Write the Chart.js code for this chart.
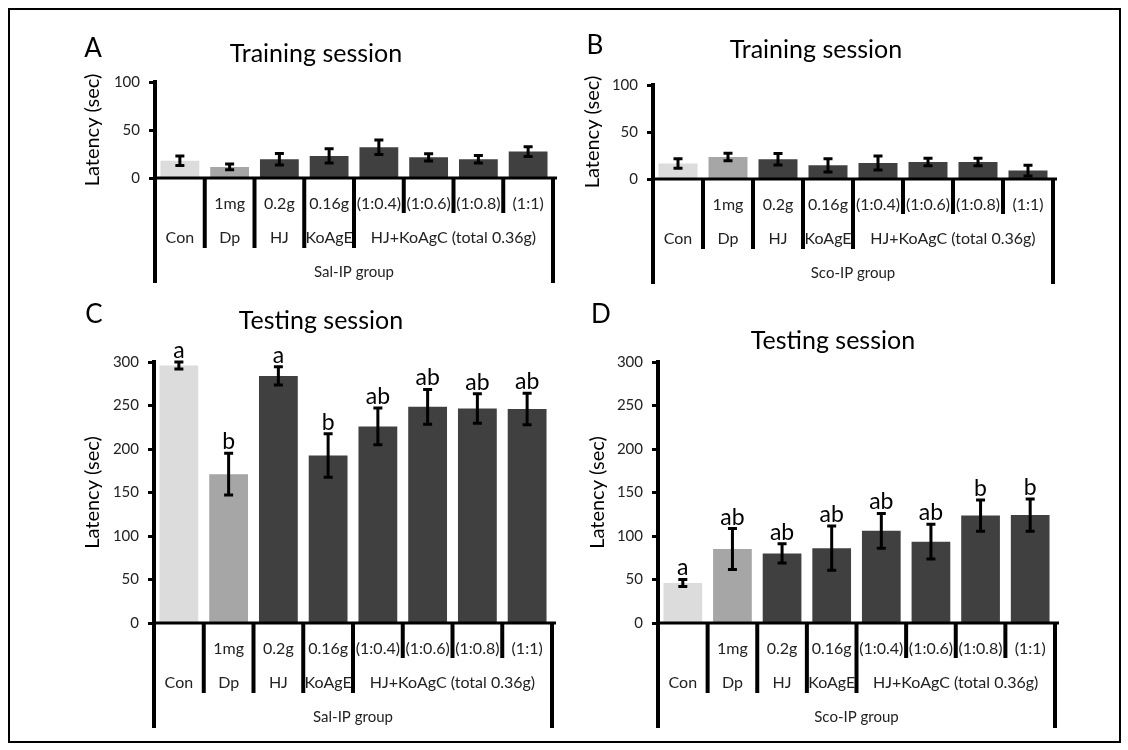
<!DOCTYPE html>
<html>
<head>
<meta charset="utf-8">
<script src="https://cdn.jsdelivr.net/npm/chart.js@4.4.1/dist/chart.umd.min.js"></script>
<style>
html, body { margin: 0; padding: 0; background: #fff; }
#frame { position: absolute; left: 8px; top: 8px; width: 1109px; height: 731px; border: 2px solid #000; }
canvas { position: absolute; }
</style>
</head>
<body>
<div id="frame"></div>
<canvas id="chartA" width="555" height="290" style="left:10px;top:10px"></canvas>
<canvas id="chartB" width="555" height="290" style="left:565px;top:10px"></canvas>
<canvas id="chartC" width="555" height="440" style="left:10px;top:300px"></canvas>
<canvas id="chartD" width="555" height="440" style="left:565px;top:300px"></canvas>
<script>
// ---- data ----
var categories = ['Con', 'Dp 1mg', 'HJ 0.2g', 'KoAgE 0.16g', 'HJ+KoAgC (1:0.4)', 'HJ+KoAgC (1:0.6)', 'HJ+KoAgC (1:0.8)', 'HJ+KoAgC (1:1)'];
var doseLabels = ['', '1mg', '0.2g', '0.16g', '(1:0.4)', '(1:0.6)', '(1:0.8)', '(1:1)'];
var treatLabels = ['Con', 'Dp', 'HJ', 'KoAgE', 'HJ+KoAgC (total 0.36g)'];
var treatSpans = [1, 1, 1, 1, 4];

var trainSalMean = [18, 11.5, 19.5, 23, 32, 21.5, 19.5, 27.5];
var trainSalErr  = [5, 3, 6, 7.5, 7.5, 3.8, 4, 5];
var trainScoMean = [16.5, 23.5, 21, 14.5, 17, 18, 18, 9];
var trainScoErr  = [5, 4, 6, 7, 7.5, 4, 4, 5.7];

var testSalMean = [296, 171, 284, 192.5, 226, 248.5, 246.5, 246];
var testSalErr  = [4, 24, 10.5, 25, 21, 20, 17, 18];
var testSalLetters = ['a', 'b', 'a', 'b', 'ab', 'ab', 'ab', 'ab'];

var testScoMean = [46, 85, 80, 86, 106, 93.5, 123.5, 124];
var testScoErr  = [4, 23.5, 11, 25.5, 20, 20, 18, 18.5];
var testScoLetters = ['a', 'ab', 'ab', 'ab', 'ab', 'ab', 'b', 'b'];

var FONT = 'Lato, "Open Sans", sans-serif';
var BAR_COLORS = ['#dcdcdc', '#a6a6a6', '#404040', '#404040', '#404040', '#404040', '#404040', '#404040'];

// panel geometry in page pixels
var panels = [
    { id: 'chartA', pos: [10, 10, 555, 290], area: [155, 82, 553, 178], mean: trainSalMean, err: trainSalErr, letters: null, max: 100,
      title: 'Training session', titleX: 316, titleY: 54, tag: 'A', tagX: 93, tagY: 49, yTitleX: 93, group: 'Sal-IP group' },
    { id: 'chartB', pos: [565, 10, 555, 290], area: [653, 85, 1053, 179], mean: trainScoMean, err: trainScoErr, letters: null, max: 100,
      title: 'Training session', titleX: 816, titleY: 50, tag: 'B', tagX: 595, tagY: 46, yTitleX: 593, group: 'Sco-IP group' },
    { id: 'chartC', pos: [10, 300, 555, 440], area: [154, 362, 552, 623], mean: testSalMean, err: testSalErr, letters: testSalLetters, max: 300,
      title: 'Testing session', titleX: 321, titleY: 321, tag: 'C', tagX: 94, tagY: 315, yTitleX: 93, group: 'Sal-IP group' },
    { id: 'chartD', pos: [565, 300, 555, 440], area: [658, 362, 1055, 623], mean: testScoMean, err: testScoErr, letters: testScoLetters, max: 300,
      title: 'Testing session', titleX: 833, titleY: 341, tag: 'D', tagX: 601, tagY: 315, yTitleX: 598, group: 'Sco-IP group' }
];

// error bars + significance letters + excel style category axis
var decorPlugin = {
    id: 'decor',
    afterDatasetsDraw: function(chart, args, o) {
        var ctx = chart.ctx, ys = chart.scales.y;
        var meta = chart.getDatasetMeta(0);
        var vals = chart.data.datasets[0].data;
        ctx.save();
        ctx.strokeStyle = '#000';
        ctx.lineWidth = 3;
        meta.data.forEach(function(bar, i) {
            var top = ys.getPixelForValue(vals[i] + o.err[i]);
            var bot = ys.getPixelForValue(Math.max(vals[i] - o.err[i], 0));
            ctx.beginPath();
            ctx.moveTo(bar.x, top); ctx.lineTo(bar.x, bot);
            ctx.moveTo(bar.x - 4.5, top); ctx.lineTo(bar.x + 4.5, top);
            ctx.moveTo(bar.x - 4.5, bot); ctx.lineTo(bar.x + 4.5, bot);
            ctx.stroke();
            if (o.letters) {
                ctx.fillStyle = '#000';
                ctx.font = '23px ' + FONT;
                ctx.textAlign = 'center';
                ctx.textBaseline = 'bottom';
                ctx.fillText(o.letters[i], bar.x, top);
            }
        });
        ctx.restore();
    },
    afterDraw: function(chart, args, o) {
        var ctx = chart.ctx, xs = chart.scales.x, a = chart.chartArea;
        var n = categories.length;
        var bound = [a.left];
        for (var i = 1; i < n; i++) bound.push((xs.getPixelForValue(i - 1) + xs.getPixelForValue(i)) / 2);
        bound.push(a.right);
        var groupStarts = [];
        var s = 0;
        treatSpans.forEach(function(sp) { groupStarts.push(s); s += sp; });

        ctx.save();
        ctx.strokeStyle = '#000';
        // x axis line
        ctx.lineWidth = 3;
        ctx.beginPath();
        ctx.moveTo(a.left - 2, a.bottom); ctx.lineTo(a.right + 4, a.bottom);
        ctx.stroke();
        // separators
        ctx.lineWidth = 4;
        ctx.beginPath();
        for (var k = 0; k <= n; k++) {
            var len = (k === 0 || k === n) ? 105 : (groupStarts.indexOf(k) >= 0 ? 70 : 35);
            ctx.moveTo(bound[k], a.bottom); ctx.lineTo(bound[k], a.bottom + len);
        }
        ctx.stroke();

        ctx.fillStyle = '#222';
        ctx.textAlign = 'center';
        ctx.textBaseline = 'middle';
        ctx.font = '16px ' + FONT;
        for (var j = 0; j < n; j++) {
            ctx.fillText(doseLabels[j], xs.getPixelForValue(j), a.bottom + 26);
        }
        treatLabels.forEach(function(lab, g) {
            var st = groupStarts[g], en = st + treatSpans[g];
            var cx = (bound[st] + bound[en]) / 2;
            if (treatSpans[g] === 1) cx = xs.getPixelForValue(st);
            ctx.fillText(lab, cx, a.bottom + 60);
        });
        ctx.font = '15px ' + FONT;
        ctx.fillText(o.group, (a.left + a.right) / 2, a.bottom + 94);

        // titles
        var ox = o.pos[0], oy = o.pos[1];
        ctx.fillStyle = '#000';
        ctx.font = '25px ' + FONT;
        ctx.fillText(o.title, o.titleX - ox, o.titleY - oy);
        ctx.font = '26px ' + FONT;
        ctx.fillText(o.tag, o.tagX - ox, o.tagY - oy);
        ctx.translate(o.yTitleX - ox, (a.top + a.bottom) / 2);
        ctx.rotate(-Math.PI / 2);
        ctx.font = '20px ' + FONT;
        ctx.fillText('Latency (sec)', 0, 0);
        ctx.restore();
    }
};

var Y_AXIS_W = 60;

panels.forEach(function(p) {
    var cx = p.pos[0], cy = p.pos[1], cw = p.pos[2], ch = p.pos[3];
    new Chart(document.getElementById(p.id), {
        type: 'bar',
        data: {
            labels: categories,
            datasets: [{
                data: p.mean,
                backgroundColor: BAR_COLORS,
                borderWidth: 0,
                categoryPercentage: 1,
                barPercentage: 0.78
            }]
        },
        options: {
            responsive: false,
            animation: false,
            devicePixelRatio: 1,
            layout: {
                padding: {
                    left: p.area[0] - cx - Y_AXIS_W,
                    top: p.area[1] - cy,
                    right: cx + cw - p.area[2],
                    bottom: cy + ch - p.area[3]
                }
            },
            plugins: {
                legend: { display: false },
                tooltip: { enabled: false },
                decor: {
                    err: p.err, letters: p.letters, group: p.group, pos: p.pos,
                    title: p.title, titleX: p.titleX, titleY: p.titleY,
                    tag: p.tag, tagX: p.tagX, tagY: p.tagY, yTitleX: p.yTitleX
                }
            },
            scales: {
                x: { display: false },
                y: {
                    min: 0,
                    max: p.max,
                    afterFit: function(scale) { scale.width = Y_AXIS_W; },
                    border: { display: true, width: 4, color: '#000' },
                    grid: { drawOnChartArea: false, drawTicks: true, tickLength: 6, tickWidth: 3, tickColor: '#000' },
                    ticks: { stepSize: 50, padding: 9, color: '#222', font: { family: FONT, size: 15 } }
                }
            }
        },
        plugins: [decorPlugin]
    });
});
</script>
</body>
</html>
